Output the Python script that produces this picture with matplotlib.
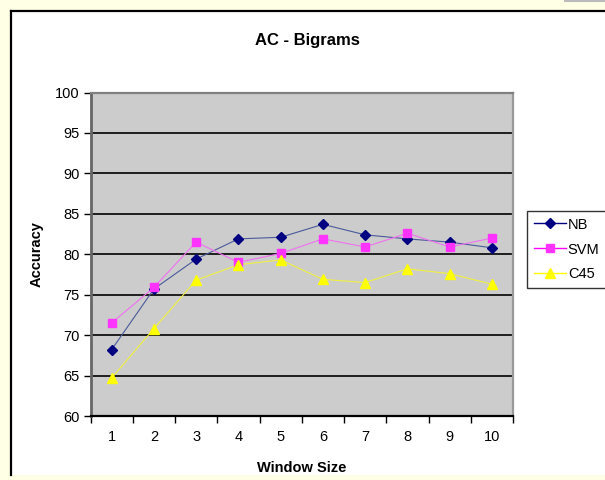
import matplotlib
matplotlib.use("Agg")
import matplotlib.pyplot as plt
from matplotlib.lines import Line2D
from matplotlib.patches import Rectangle

plt.rcParams['font.family'] = ['Liberation Sans', 'DejaVu Sans']

window_sizes = [1, 2, 3, 4, 5, 6, 7, 8, 9, 10]
nb = [68.2, 75.7, 79.4, 81.9, 82.1, 83.7, 82.4, 81.9, 81.5, 80.8]
svm = [71.5, 75.9, 81.5, 79.0, 80.1, 81.9, 80.9, 82.6, 80.9, 82.0]
c45 = [64.7, 70.8, 76.8, 78.7, 79.3, 76.9, 76.5, 78.2, 77.6, 76.3]
y_ticks = [60, 65, 70, 75, 80, 85, 90, 95, 100]

W, H = 605, 480
fig = plt.figure(figsize=(W / 100, H / 100), dpi=100)
fig.patch.set_facecolor('#FFFFE6')

# white chart area with a black frame on the left and top
fig.patches.append(Rectangle((11 / W, 5 / H), 1.0, (475 - 10.5) / H,
                             transform=fig.transFigure, facecolor='white',
                             edgecolor='none', zorder=-10))
fig.lines.append(Line2D([11 / W, 11 / W], [5 / H, 1 - 10.5 / H],
                        transform=fig.transFigure, color='black', lw=1.6, zorder=-5))
fig.lines.append(Line2D([11 / W, 1.0], [1 - 10.5 / H, 1 - 10.5 / H],
                        transform=fig.transFigure, color='black', lw=1.6, zorder=-5))
fig.lines.append(Line2D([565 / W, 1.0], [1 - 0.5 / H, 1 - 0.5 / H],
                        transform=fig.transFigure, color='#BBBBBB', lw=1.5, zorder=-5))

left, right, top, bottom = 90.5, 513, 92.5, 416
ax = fig.add_axes([left / W, 1 - bottom / H, (right - left) / W, (bottom - top) / H])
ax.set_zorder(2)
ax.set_facecolor('#CCCCCC')

ax.set_xlim(0.5, 10.5)
ax.set_ylim(60, 100)
ax.set_yticks(y_ticks)
ax.set_xticks(window_sizes)
ax.set_xticks([x + 0.5 for x in range(0, 11)], minor=True)
ax.tick_params(axis='x', which='major', length=0, pad=10, labelsize=10.5)
ax.tick_params(axis='x', which='minor', length=5, width=1, direction='out', color='black')
ax.tick_params(axis='y', which='major', length=5, width=1, direction='out', pad=3, labelsize=10.5)

for y in y_ticks[1:-1]:
    ax.axhline(y, color='black', lw=1.2, zorder=1)

ax.spines['left'].set_color('#666666')
ax.spines['left'].set_linewidth(2)
ax.spines['top'].set_color('#808080')
ax.spines['top'].set_linewidth(1.6)
ax.spines['right'].set_color('#999999')
ax.spines['right'].set_linewidth(1.6)
ax.spines['bottom'].set_color('black')
ax.spines['bottom'].set_linewidth(1.6)

# thin series lines, markers drawn at full strength on top
series = [(nb, 'NB', '#000080', '#4A5A9A', 'D', 5),
          (svm, 'SVM', '#FF33FF', '#F070F0', 's', 6),
          (c45, 'C45', '#FFFF00', '#F0F040', '^', 7)]
for values, name, mcolor, lcolor, marker, msize in series:
    ax.plot(window_sizes, values, color=lcolor, lw=0.8, zorder=3)
    ax.plot(window_sizes, values, linestyle='none', marker=marker, markersize=msize,
            markerfacecolor=mcolor, markeredgecolor=mcolor, zorder=4)

handles = [Line2D([], [], color=mcolor, lw=1.0, marker=marker, markersize=msize,
                  markerfacecolor=mcolor, markeredgecolor=mcolor, label=name)
           for values, name, mcolor, lcolor, marker, msize in series]
handles[0].set_color('#000080')
handles[1].set_color('#FF00FF')

leg = fig.legend(handles=handles, loc='upper left', bbox_to_anchor=(527 / W, 1 - 211 / H),
                 frameon=True, fancybox=False, fontsize=10.5, handlelength=2.2,
                 borderpad=0.45, labelspacing=0.75, handletextpad=0.15,
                 borderaxespad=0)
leg.get_frame().set_edgecolor('black')
leg.get_frame().set_linewidth(1.0)

fig.text(307 / W, 1 - 40 / H, 'AC - Bigrams', ha='center', va='center',
         fontsize=12, fontweight='bold')
fig.text(37 / W, 1 - 254 / H, 'Accuracy', ha='center', va='center',
         rotation=90, fontsize=10.5, fontweight='bold')
fig.text(302 / W, 1 - 468 / H, 'Window Size', ha='center', va='center',
         fontsize=10.5, fontweight='bold')

fig.savefig('out.png', dpi=100, facecolor=fig.get_facecolor())
